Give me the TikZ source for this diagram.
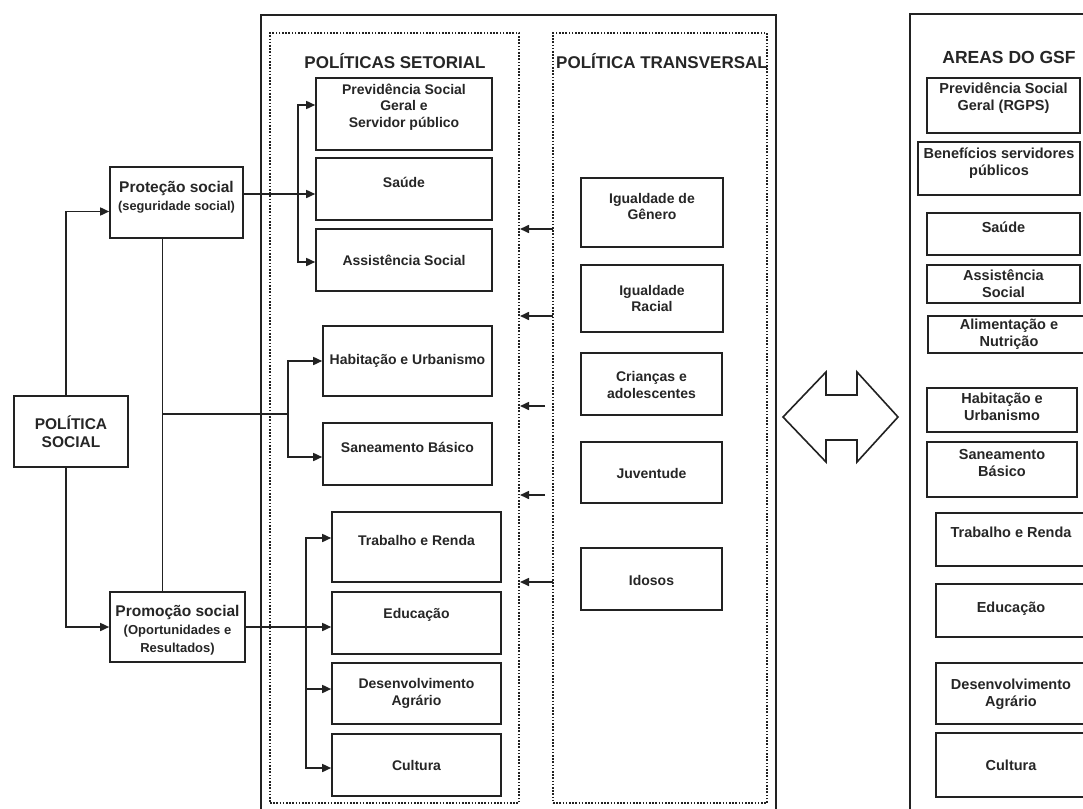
\documentclass[tikz,border=0pt]{standalone}
\usepackage{fontspec}
\setmainfont{Liberation Sans}
\usetikzlibrary{arrows.meta}
\definecolor{ln}{HTML}{222222}
\definecolor{txtc}{HTML}{262626}
\tikzset{
  bx/.style={draw=ln, line width=1.6pt, rectangle, inner sep=0pt},
  tx/.style={font=\bfseries\fontsize{14}{16.5}\selectfont, align=center, text=txtc, inner sep=0pt},
  txr/.style={font=\bfseries\fontsize{14.5}{17}\selectfont},
  txl/.style={font=\bfseries\fontsize{15.5}{18}\selectfont},
  ttl/.style={font=\bfseries\fontsize{17}{20}\selectfont, text=txtc, inner sep=0pt},
  conn/.style={draw=ln, line width=1.6pt},
  arr/.style={conn, -{Triangle[length=9pt,width=8pt]}},
  frame/.style={draw=ln, line width=2.2pt},
  dotf/.style={draw=ln, line width=2pt, dash pattern=on 1.6pt off 1.6pt, rectangle, inner sep=0pt},
}
% name x1 y1 x2 y2 dy text ; optional text style
\newcommand\mybox[8][]{%
  \node[bx, minimum width={(#5-#3)*1pt}, minimum height={(#6-#4)*1pt}] (#2) at ({(#3+#5)/2},{(#4+#6)/2}) {};
  \node[tx,#1] (#2t) at ([yshift=#7pt]#2.center) {#8};
}
\begin{document}
\begin{tikzpicture}[x=1pt,y=-1pt]
\useasboundingbox (0,0) rectangle (1083,808);
\clip (0,0) rectangle (1083,808);
\fill[white] (0,0) rectangle (1083,808);

% solid frames
\draw[frame] (261,830) -- (261,15) -- (776,15) -- (776,830);
\draw[frame] (910,830) -- (910,14) -- (1100,14);

% dotted frames
\node[dotf, minimum width=249pt, minimum height=770pt] (setf) at (394.5,418) {};
\node[dotf, minimum width=214pt, minimum height=770pt] (trf) at (660,418) {};

% titles
\node[ttl] (sett) at (395,61) {POLÍTICAS SETORIAL};
\node[ttl] (trt) at (662,61) {POLÍTICA TRANSVERSAL};
\node[ttl, font=\bfseries\fontsize{17.5}{20}\selectfont] (gsft) at (1009,57) {AREAS DO GSF};

% left boxes
\mybox[txl]{ps}{14}{396}{128}{467}{0}{POLÍTICA\\SOCIAL}
\mybox[txl]{prot}{110}{167}{243}{238}{5}{Proteção social\\{\fontsize{12.8}{18}\selectfont (seguridade social)}}
\mybox[txl]{prom}{110}{592}{245}{662}{-3}{Promoção social\\{\fontsize{13}{17}\selectfont (Oportunidades e}\\{\fontsize{13}{17}\selectfont Resultados)}}

% setorial boxes
\mybox{prev}{316}{78}{492}{150}{7}{Previdência Social\\Geral e\\Servidor público}
\mybox{sau}{316}{158}{492}{220}{7}{Saúde}
\mybox{assi}{316}{229}{492}{291}{0}{Assistência Social}
\mybox{hab}{323}{326}{492}{396}{0}{Habitação e Urbanismo}
\mybox{san}{323}{423}{492}{485}{7}{Saneamento Básico}
\mybox{trab}{332}{512}{501}{582}{7}{Trabalho e Renda}
\mybox{edu}{332}{592}{501}{654}{8}{Educação}
\mybox{des}{332}{663}{501}{724}{0}{Desenvolvimento\\Agrário}
\mybox{cul}{332}{734}{501}{796}{0}{Cultura}

% transversal boxes
\mybox{gen}{581}{178}{723}{247}{6}{Igualdade de\\Gênero}
\mybox{rac}{581}{265}{723}{332}{0}{Igualdade\\Racial}
\mybox{cri}{581}{353}{722}{415}{-1}{Crianças e\\adolescentes}
\mybox{juv}{581}{442}{722}{503}{-1}{Juventude}
\mybox{ido}{581}{548}{722}{610}{-1}{Idosos}

% right column
\mybox[txr]{rgps}{927}{78}{1080}{133}{7}{Previdência Social\\Geral (RGPS)}
\mybox[txr]{ben}{918}{142}{1080}{195}{5}{Benefícios servidores\\públicos}
\mybox[txr]{rsau}{927}{213}{1080}{255}{7}{Saúde}
\mybox[txr]{rass}{927}{265}{1080}{303}{0}{Assistência\\Social}
\mybox[txr]{ali}{928}{316}{1090}{353}{0}{Alimentação e\\Nutrição}
\mybox[txr]{rhab}{927}{388}{1077}{432}{3}{Habitação e\\Urbanismo}
\mybox[txr]{rsan}{927}{442}{1077}{497}{6}{Saneamento\\Básico}
\mybox[txr]{rtra}{936}{513}{1086}{566}{7}{Trabalho e Renda}
\mybox[txr]{redu}{936}{584}{1086}{637}{2}{Educação}
\mybox[txr]{rdes}{936}{663}{1086}{724}{-1}{Desenvolvimento\\Agrário}
\mybox[txr]{rcul}{936}{733}{1086}{797}{0}{Cultura}

% connectors from POLÍTICA SOCIAL
\draw[arr] ([xshift=-5pt]ps.north) |- ([yshift=-9pt]prot.west);
\draw[arr] ([xshift=-5pt]ps.south) |- (prom.west);

% Proteção social -> previdência / saúde / assistência
\coordinate (j1) at (298,194);
\draw[arr] ([yshift=8.5pt]prot.east) -- ([yshift=8.5pt]prot.east -| sau.west);
\draw[arr] (j1) |- ([yshift=9pt]prev.west);
\draw[arr] (j1) |- ([yshift=-2pt]assi.west);

% trunk between Proteção and Promoção
\draw[conn] ([xshift=-14pt]prot.south) -- ([xshift=-14pt]prot.south |- prom.north);
\coordinate (j2) at (163,414);
\coordinate (j3) at (288,414);
\draw[conn] (j2) -- (j3);
\draw[arr] (j3) |- (hab.west);
\draw[arr] (j3) |- ([yshift=-3pt]san.west);

% Promoção social -> trabalho / educação / desenvolvimento / cultura
\coordinate (j4) at (306,627);
\draw[arr] (prom.east) -- (prom.east -| edu.west);
\draw[arr] (j4) |- ([yshift=9pt]trab.west);
\draw[arr] (j4) |- ([yshift=4.5pt]des.west);
\draw[arr] (j4) |- ([yshift=-3pt]cul.west);

% transversal -> setorial arrows
\coordinate (t1) at (553,229);
\coordinate (t2) at (553,316);
\coordinate (t3) at (545,406);
\coordinate (t4) at (545,495);
\coordinate (t5) at (553,582);
\foreach \t in {t1,t2,t3,t4,t5} {
  \draw[arr] (\t) -- (\t -| setf.east);
}

% double block arrow
\draw[conn, line join=miter] (783,417) -- (826,372) -- (826,395) -- (857,395) -- (857,372)
  -- (898,417) -- (857,462) -- (857,440) -- (826,440) -- (826,462) -- cycle;
\end{tikzpicture}
\end{document}
